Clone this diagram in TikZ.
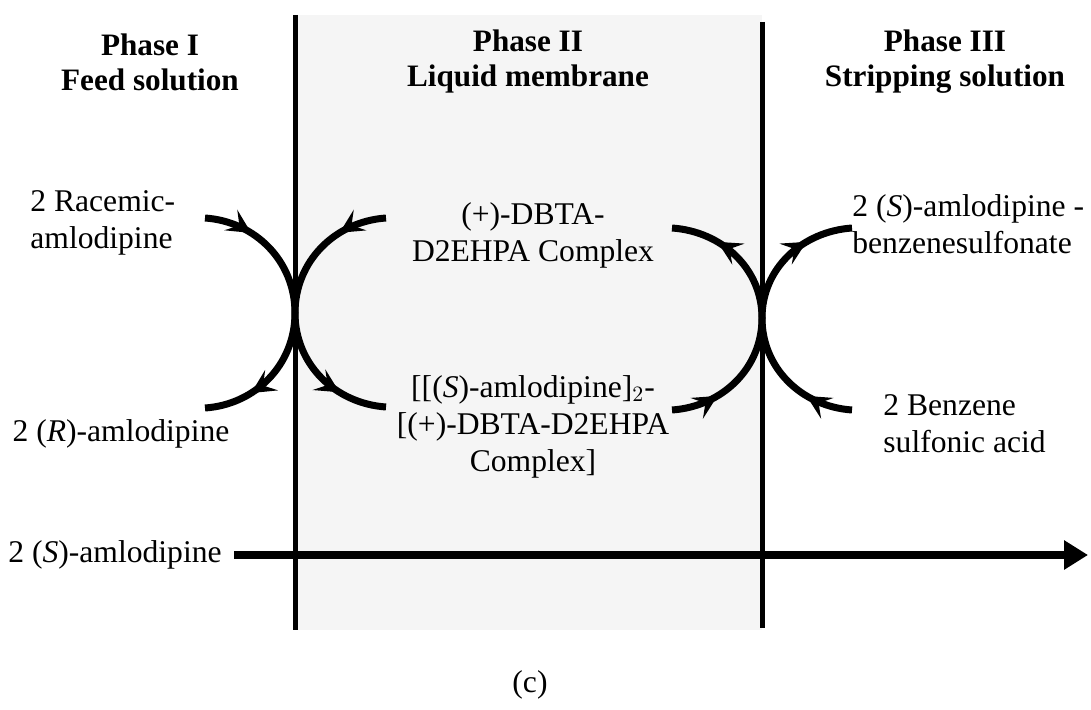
\documentclass[tikz,border=0pt]{standalone}
\usepackage{fontspec}
\setmainfont{Liberation Serif}
\usetikzlibrary{arrows.meta, decorations.markings}

\begin{document}
\begin{tikzpicture}[x=0.5pt, y=0.5pt,
  txt/.style={font=\fontsize{15.8}{18.5}\selectfont, inner sep=0pt, align=center},
  head/.style={font=\fontsize{15.6}{17.5}\selectfont\bfseries, inner sep=0pt, align=center},
  wall/.style={line width=2.5pt},
  flow/.style={line width=3.5pt, postaction={decorate}, decoration={markings,
    mark=at position 0.17 with {\arrow{Stealth[length=12pt,width=12pt,inset=5pt]}},
    mark=at position 0.83 with {\arrow{Stealth[length=12pt,width=12pt,inset=5pt]}}}}
  ]
\useasboundingbox (0,0) rectangle (1091,-710);

\coordinate (ltop) at (295,-15);
\coordinate (lbot) at (295,-630);
\coordinate (rtop) at (762,-22);
\coordinate (rbot) at (762,-628);
\coordinate (lx) at (295,-313);
\coordinate (rx) at (762,-318);
\coordinate (a1) at (205,-218);
\coordinate (a2) at (205,-408);
\coordinate (a3) at (386,-218);
\coordinate (a4) at (386,-407);
\coordinate (b1) at (672,-228);
\coordinate (b2) at (672,-410);
\coordinate (b3) at (852,-228);
\coordinate (b4) at (852,-410);
\coordinate (hend) at (1088,-555);

\fill[black!4] (295,-15) rectangle (762,-630);

\node[head] (ph1) at (150,-62) {Phase I\\Feed solution};
\node[head] (ph2) at (528,-62) {Phase II\\Liquid membrane};
\node[head] (ph3) at (945,-62) {Phase III\\Stripping solution};

\node[txt, align=left, anchor=west] (rac) at (30,-223) {2 Racemic-\\amlodipine};
\node[txt] (ramlo) at (121,-434) {2 (\textit{R})-amlodipine};
\node[txt] (dbta) at (533,-235) {(+)-DBTA-\\D2EHPA Complex};
\node[txt] (cplx) at (533,-427) {{[[}(\textit{S})-amlodipine]$_2$-\\{[}(+)-DBTA-D2EHPA\\Complex]};
\node[txt, align=left, anchor=west] (sbs) at (852,-224) {2 (\textit{S})-amlodipine -\\benzenesulfonate};
\node[txt, align=left, anchor=west] (bsa) at (883,-424) {2 Benzene\\sulfonic acid};
\node[txt, anchor=east] (samlo) at (222,-555) {2 (\textit{S})-amlodipine};
\node[txt] (cap) at (530,-685) {(c)};

\draw[wall] (ltop) -- (lbot);
\draw[wall] (rtop) -- (rbot);

\draw[flow] (a1) to[out=-4,in=90] (lx) to[out=-90,in=4] (a2);
\draw[flow] (a3) to[out=184,in=90] (lx) to[out=-90,in=176] (a4);
\draw[flow] (b2) to[out=4,in=-90] (rx) to[out=90,in=-4] (b1);
\draw[flow] (b4) to[out=176,in=-90] (rx) to[out=90,in=184] (b3);

\draw[line width=4pt, -{Triangle[length=12pt,width=14pt]}, shorten <=6pt] (samlo) -- (hend);
\end{tikzpicture}
\end{document}
